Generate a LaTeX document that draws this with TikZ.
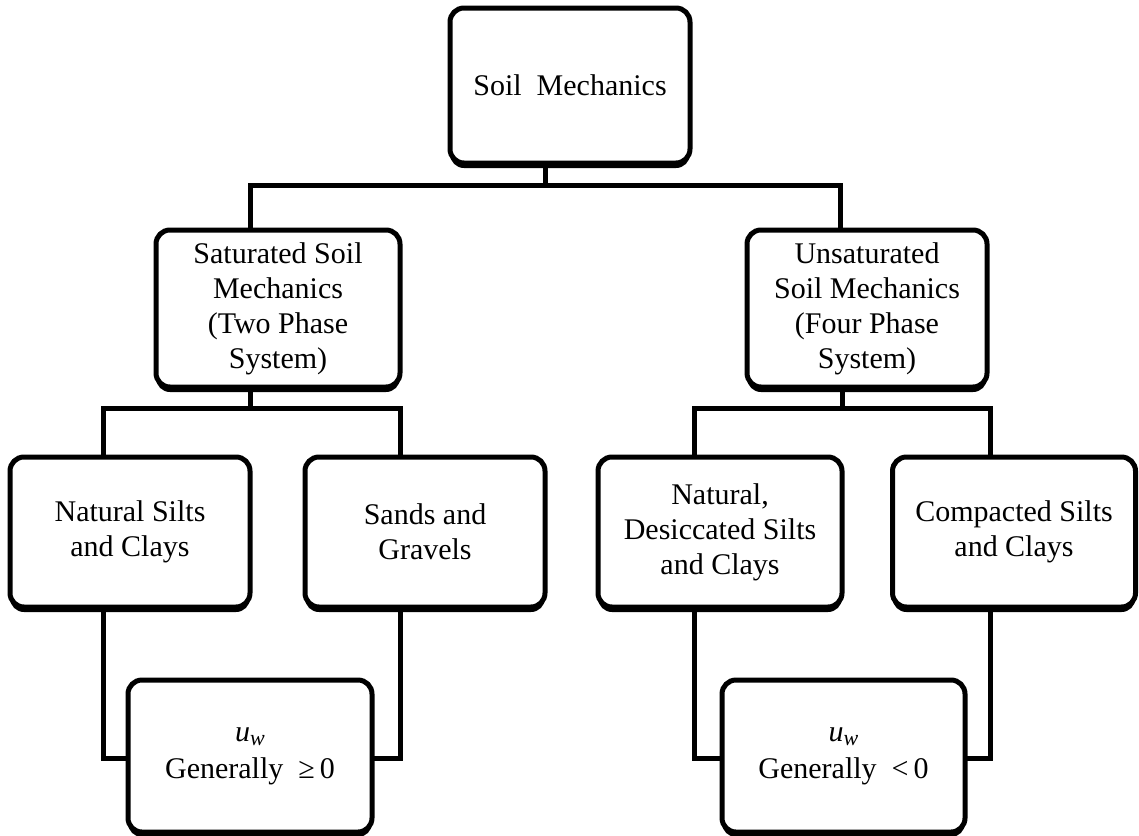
\documentclass[tikz,border=0pt]{standalone}
\usepackage{fontspec}
\setmainfont{Liberation Serif}
\usetikzlibrary{shadows}
\tikzset{
  soilbox/.style={draw=black, fill=white, line width=5pt, rounded corners=14pt,
    inner sep=0pt, outer sep=0pt, align=center,
    font=\fontsize{30}{35}\selectfont,
    drop shadow={shadow xshift=0pt, shadow yshift=-5pt, fill=black, opacity=1}},
  link/.style={draw=black, line width=5pt, line join=miter}
}
\newcommand{\uwsym}{{\itshape u}\raisebox{-0.35ex}{\fontsize{22}{22}\selectfont\itshape w}}
\begin{document}
\begin{tikzpicture}[x=1pt, y=-1pt]
\useasboundingbox (0,0) rectangle (1139,835);

\node[soilbox, minimum width=240pt, minimum height=155pt] (top) at (570,85.5) {Soil\ \ Mechanics};
\node[soilbox, minimum width=244pt, minimum height=157pt] (sat) at (278,308.5) {Saturated\ Soil\\Mechanics\\(Two\ Phase\\System)};
\node[soilbox, minimum width=240pt, minimum height=157pt] (unsat) at (867,308.5) {Unsaturated\\Soil\ Mechanics\\(Four\ Phase\\System)};
\node[soilbox, minimum width=240pt, minimum height=150pt] (nat) at (130,532) {Natural\ Silts\\and Clays};
\node[soilbox, minimum width=240pt, minimum height=150pt] (sand) at (425,532) {Sands and\\Gravels};
\node[soilbox, minimum width=244pt, minimum height=150pt] (des) at (720,532) {Natural,\\Desiccated\ Silts\\and Clays};
\node[soilbox, minimum width=243pt, minimum height=150pt] (comp) at (1014,532) {Compacted\ Silts\\and Clays};
\node[soilbox, minimum width=244pt, minimum height=152pt] (bl) at (250,756) {\uwsym\\[2pt]Generally\ \ ≥\,0};
\node[soilbox, minimum width=243pt, minimum height=152pt] (br) at (843.5,756) {\uwsym\\[2pt]Generally\ \ <\,0};

% level 1
\coordinate (hT) at (545,185);
\coordinate (hL) at (250,185);
\coordinate (hR) at (840,185);
\draw[link] (top.south -| hT) -- (hT);
\draw[link] (sat.north -| hL) -- (hL) -- (hR) -- (unsat.north -| hR);

% level 2 left
\coordinate (sM) at (250,408);
\coordinate (sL) at (103,408);
\coordinate (sR) at (400,408);
\draw[link] (sat.south -| sM) -- (sM);
\draw[link] (nat.north -| sL) -- (sL) -- (sR) -- (sand.north -| sR);

% level 2 right
\coordinate (uM) at (842,408);
\coordinate (uL) at (694,408);
\coordinate (uR) at (990,408);
\draw[link] (unsat.south -| uM) -- (uM);
\draw[link] (des.north -| uL) -- (uL) -- (uR) -- (comp.north -| uR);

% level 3
\coordinate (bL1) at (103,758);
\coordinate (bL2) at (400,758);
\coordinate (bR1) at (694,758);
\coordinate (bR2) at (990,758);
\draw[link] (nat.south -| bL1) -- (bL1) -- (bl.west |- bL1);
\draw[link] (sand.south -| bL2) -- (bL2) -- (bl.east |- bL2);
\draw[link] (des.south -| bR1) -- (bR1) -- (br.west |- bR1);
\draw[link] (comp.south -| bR2) -- (bR2) -- (br.east |- bR2);
\end{tikzpicture}
\end{document}
